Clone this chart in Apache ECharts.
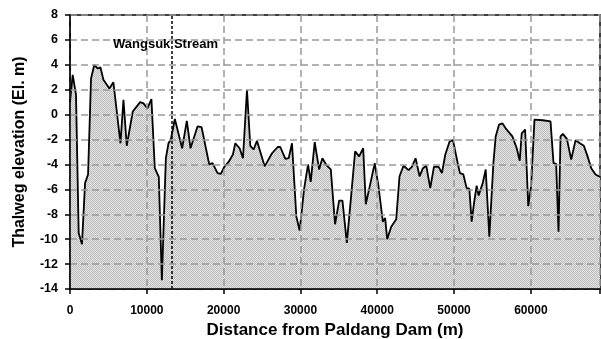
<!DOCTYPE html>
<html>
<head>
<meta charset="utf-8">
<script src="https://cdn.jsdelivr.net/npm/echarts@6/dist/echarts.min.js"></script>
<style>
html,body{margin:0;padding:0;background:#fff;}
#chart{width:601px;height:339px;}
</style>
</head>
<body>
<div id="chart"></div>
<script>
// Distance from Paldang Dam (m)
const distance = [0, 350, 780, 1130, 1560, 1960, 2350, 2740, 3170, 3610,
  3960, 4350, 5130, 5650, 6570, 6960, 7390, 8170, 9130, 9570,
  10080, 10600, 11040, 11560, 11960, 12480, 12820, 13130, 13650, 14600,
  15210, 15690, 16600, 17130, 18130, 18560, 19210, 19650, 20080, 20650,
  21210, 21520, 22080, 22520, 23040, 23470, 23910, 24340, 25340, 26300,
  27040, 27380, 28040, 28470, 28900, 29470, 29900, 30470, 30990, 31340,
  31860, 32430, 32860, 33430, 33950, 34510, 35040, 35470, 36040, 36560,
  37120, 37640, 38170, 38510, 39080, 39670, 40160, 40730, 41030, 41290,
  41820, 42470, 42900, 43420, 44080, 44510, 44990, 45510, 45950, 46380,
  46900, 47380, 47990, 48420, 48860, 49420, 49860, 50070, 50510, 50770,
  51210, 51640, 51990, 52290, 52600, 52940, 53200, 53730, 54120, 54590,
  55120, 55420, 55860, 56290, 56720, 57590, 58160, 58550, 58810, 59250,
  59660, 60030, 60470, 61550, 62560, 62950, 63290, 63600, 63860, 64160,
  64690, 65250, 65820, 66380, 66900, 67380, 67860, 68420, 69000];
// Thalweg elevation (El. m)
const elevation = [1.0, 3.2, 1.6, -9.5, -10.4, -5.5, -4.8, 2.9, 4.0, 3.7,
  3.8, 2.8, 2.1, 2.6, -2.3, 1.2, -2.5, 0.25, 1.0, 0.9,
  0.5, 1.25, -4.3, -5.0, -13.3, -3.5, -2.3, -2.0, -0.35, -2.7,
  -0.5, -2.7, -0.95, -1.0, -4.0, -3.9, -4.7, -4.75, -4.2, -3.8,
  -3.2, -2.3, -2.7, -3.5, 2.0, -2.5, -2.8, -2.1, -4.15, -3.1,
  -2.6, -2.6, -3.55, -3.5, -2.3, -8.2, -9.3, -6.0, -4.0, -5.4,
  -2.2, -4.4, -3.5, -4.1, -4.4, -8.8, -6.9, -6.9, -10.3, -6.8,
  -2.95, -3.35, -2.7, -7.2, -5.6, -3.9, -5.75, -8.6, -8.3, -10.0,
  -9.0, -8.4, -4.95, -4.1, -4.45, -4.2, -3.5, -4.95, -4.3, -4.1,
  -5.9, -4.2, -4.2, -4.7, -3.2, -2.15, -2.05, -2.2, -4.0, -4.7,
  -4.8, -5.9, -5.95, -8.6, -7.1, -5.7, -6.5, -5.5, -4.4, -9.8,
  -3.9, -1.75, -0.8, -0.7, -1.1, -1.75, -2.7, -3.7, -1.5, -1.2,
  -7.35, -5.75, -0.4, -0.45, -0.55, -3.9, -3.95, -9.4, -1.75, -1.55,
  -1.95, -3.6, -2.05, -2.3, -2.5, -3.35, -4.3, -4.8, -5.0];
const streamName = 'Wangsuk Stream';
const streamDistance = 13260;
const xTicks = [0, 10000, 20000, 30000, 40000, 50000, 60000];
const yTicks = [-14, -12, -10, -8, -6, -4, -2, 0, 2, 4, 6, 8];

const points = distance.map((d, i) => [d, elevation[i]]);

// dotted fill pattern
const pc = document.createElement('canvas');
pc.width = 2; pc.height = 2;
const pctx = pc.getContext('2d');
pctx.fillStyle = '#e4e4e4'; pctx.fillRect(0, 0, 2, 2);
pctx.fillStyle = '#bcbcbc'; pctx.fillRect(0, 0, 1, 1); pctx.fillRect(1, 1, 1, 1);

const chart = echarts.init(document.getElementById('chart'), null, {renderer: 'canvas'});
const font = '"Liberation Sans", Arial, sans-serif';
const gridLine = {show: true, lineStyle: {color: '#999', type: [7, 4], width: 1.5}};

chart.setOption({
  animation: false,
  backgroundColor: '#fff',
  grid: {left: 70, right: 1, top: 15, bottom: 50, outerBoundsMode: 'none', containLabel: false,
    show: true, borderColor: '#000', borderWidth: 1.5, backgroundColor: 'transparent'},
  xAxis: {
    type: 'value', min: 0, max: 69000, interval: 10000, z: 10,
    name: 'Distance from Paldang Dam (m)', nameLocation: 'middle', nameGap: 31,
    nameTextStyle: {fontFamily: font, fontWeight: 'bold', fontSize: 17, color: '#000'},
    axisLine: {show: true, onZero: false, lineStyle: {color: '#000', width: 1.5}},
    axisTick: {show: true, length: 5, lineStyle: {color: '#000', width: 1.5}},
    axisLabel: {fontFamily: font, fontWeight: 'bold', fontSize: 12, color: '#000', margin: 16,
      formatter: v => xTicks.includes(v) ? String(v) : ''},
    splitLine: gridLine
  },
  yAxis: {
    type: 'value', min: -14, max: 8, interval: 2, z: 10,
    name: 'Thalweg elevation (El. m)', nameLocation: 'middle', nameGap: 42,
    nameTextStyle: {fontFamily: font, fontWeight: 'bold', fontSize: 16, color: '#000'},
    axisLine: {show: true, onZero: false, lineStyle: {color: '#000', width: 1.5}},
    axisTick: {show: true, length: 5, lineStyle: {color: '#000', width: 1.5}},
    axisLabel: {fontFamily: font, fontWeight: 'bold', fontSize: 12.5, color: '#000', margin: 12,
      formatter: v => yTicks.includes(v) ? String(v) : ''},
    splitLine: gridLine
  },
  series: [{
    type: 'line',
    data: points,
    symbol: 'none',
    lineStyle: {color: '#000', width: 1.8},
    areaStyle: {origin: 'start', color: {image: pc, repeat: 'repeat'}, opacity: 1},
    markLine: {
      silent: true, symbol: 'none',
      label: {show: false},
      lineStyle: {color: '#000', type: [3, 2], width: 1.5},
      data: [{xAxis: streamDistance}]
    },
    z: 3
  }],
  graphic: [{
    type: 'text', left: 113, top: 38, z: 20,
    style: {text: streamName, font: 'bold 13px ' + font, fill: '#000'}
  }]
});
</script>
</body>
</html>
